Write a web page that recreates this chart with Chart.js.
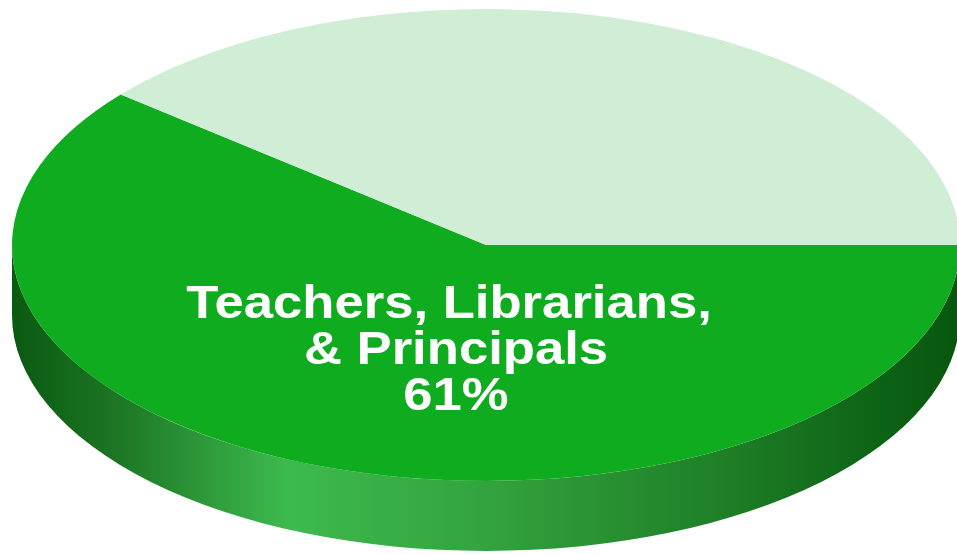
<!DOCTYPE html>
<html>
<head>
<meta charset="utf-8">
<script src="https://cdn.jsdelivr.net/npm/chart.js@4.4.1/dist/chart.umd.min.js"></script>
<style>
  html, body { margin: 0; padding: 0; background: #fff; }
  #wrap { width: 957px; height: 555px; }
</style>
</head>
<body>
<div id="wrap"><canvas id="pie3d" width="957" height="555"></canvas></div>
<script>
// --- dados ---
const categorias = ['Teachers, Librarians, & Principals', 'Others'];
const valores = [61, 39];
const cores = ['#0fac20', '#d0eed5'];
const rotulo = ['Teachers, Librarians,', '& Principals', '61%'];

// --- geometria da elipse (tampa) ---
const cx = 486, cy = 245, rx = 474, ry = 236, espessura = 70;

// gradiente da lateral (escuro -> claro -> escuro)
function gradLateral(ctx) {
  let g = ctx.createLinearGradient(cx - rx, 0, cx + rx, 0);
  g.addColorStop(0.00, '#0a5a10');
  g.addColorStop(0.11, '#1c7624');
  g.addColorStop(0.29, '#3dba4d');
  g.addColorStop(0.50, '#33a33f');
  g.addColorStop(0.75, '#1f7f26');
  g.addColorStop(0.92, '#0c6214');
  g.addColorStop(1.00, '#08560e');
  return g;
}

const plugin3d = {
  id: 'plugin3d',
  beforeDatasetsDraw(chart) {
    const ctx = chart.ctx;
    const meta = chart.getDatasetMeta(0);
    const arco = meta.data[0];
    const R = arco.outerRadius;

    // lateral: só a parte da frente (0..PI) aparece
    meta.data.forEach(function (a) {
      let ini = Math.max(a.startAngle, 0);
      let fim = Math.min(a.endAngle, Math.PI);
      if (fim <= ini) return;
      ctx.save();
      ctx.beginPath();
      ctx.ellipse(cx, cy, rx, ry, 0, ini, fim);
      ctx.ellipse(cx, cy + espessura, rx, ry, 0, fim, ini, true);
      ctx.closePath();
      ctx.fillStyle = gradLateral(ctx);
      ctx.fill();
      ctx.restore();
    });

    // achata o círculo em elipse
    ctx.save();
    ctx.translate(cx, cy);
    ctx.scale(rx / R, ry / R);
    ctx.translate(-arco.x, -arco.y);
  },
  afterDatasetsDraw(chart) {
    const ctx = chart.ctx;
    ctx.restore();

    // rótulo
    const bases = [318, 364, 410];
    const centros = [449, 456, 456];
    ctx.save();
    ctx.fillStyle = '#ffffff';
    ctx.font = 'bold 47px "Liberation Sans", Arial, sans-serif';
    ctx.textAlign = 'center';
    ctx.textBaseline = 'alphabetic';
    rotulo.forEach(function (linha, i) {
      ctx.save();
      ctx.translate(centros[i], bases[i]);
      ctx.scale(1.12, 1);
      ctx.fillText(linha, 0, 0);
      ctx.restore();
    });
    ctx.restore();
  }
};

let ctx = document.getElementById('pie3d');

let dados = {
  labels: categorias,
  datasets: [{
    data: valores,
    backgroundColor: cores,
    borderWidth: 0,
    hoverOffset: 0
  }]
};

let opcoes = {
  responsive: false,
  animation: false,
  rotation: 90,
  layout: { padding: 0 },
  plugins: {
    legend: { display: false },
    tooltip: { enabled: false }
  }
};

let grafico = new Chart(ctx, {
  type: 'pie',
  data: dados,
  options: opcoes,
  plugins: [plugin3d]
});
</script>
</body>
</html>
